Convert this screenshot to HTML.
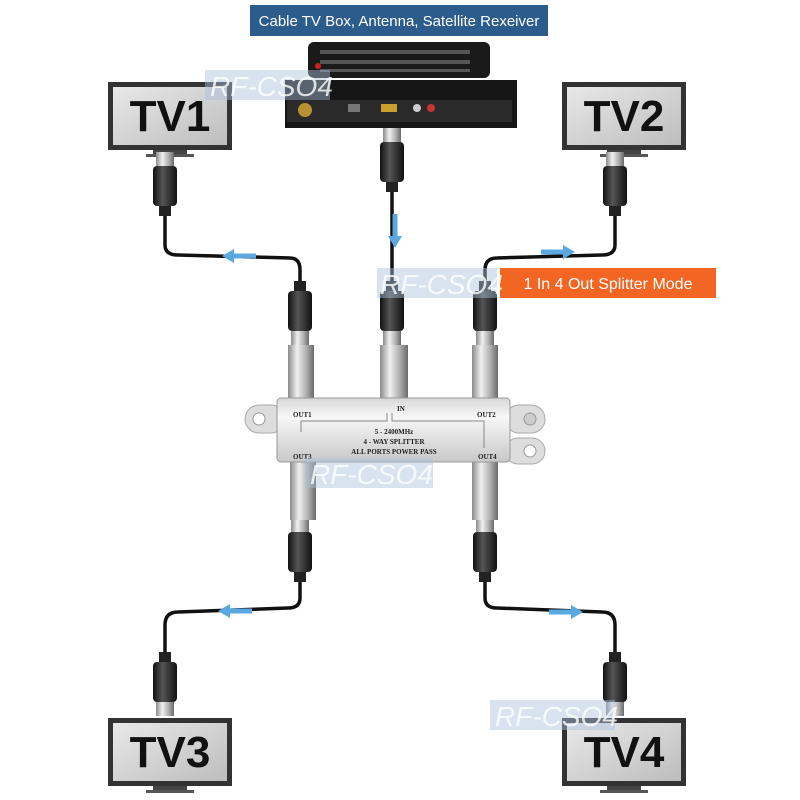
<!DOCTYPE html>
<html><head><style>body{margin:0;background:#fff}svg{display:block}</style></head>
<body>
<svg width="800" height="800" viewBox="0 0 800 800" xmlns="http://www.w3.org/2000/svg" font-family="Liberation Sans, sans-serif">
<defs>
<linearGradient id="metal" x1="0" x2="1" y1="0" y2="0">
<stop offset="0" stop-color="#8a8a8a"/><stop offset="0.35" stop-color="#f0f0f0"/><stop offset="0.7" stop-color="#b0b0b0"/><stop offset="1" stop-color="#6a6a6a"/></linearGradient>
<linearGradient id="conn" x1="0" x2="1" y1="0" y2="0">
<stop offset="0" stop-color="#111"/><stop offset="0.4" stop-color="#555"/><stop offset="1" stop-color="#111"/></linearGradient>
<linearGradient id="body" x1="0" x2="0" y1="0" y2="1">
<stop offset="0" stop-color="#d8d8d8"/><stop offset="0.3" stop-color="#f7f7f7"/><stop offset="1" stop-color="#c8c8c8"/></linearGradient>
<linearGradient id="screen" x1="0" x2="1" y1="0" y2="1">
<stop offset="0" stop-color="#e8e8e8"/><stop offset="1" stop-color="#bdbdbd"/></linearGradient>
<g id="plug">
<rect x="-9" y="0" width="18" height="14" fill="url(#metal)"/>
<rect x="-12" y="14" width="24" height="40" rx="4" fill="url(#conn)"/>
<rect x="-6" y="54" width="12" height="10" fill="#222"/>
</g>
<g id="tv">
<rect x="0" y="0" width="124" height="68" fill="#333"/>
<rect x="5" y="5" width="114" height="58" fill="url(#screen)"/>
<rect x="45" y="68" width="34" height="5" fill="#444"/>
<rect x="38" y="72" width="48" height="3" fill="#555"/>
</g>
<g id="arrowL"><rect x="8" y="-2.5" width="26" height="5" fill="#5aa8e0"/><polygon points="0,0 12,-7 12,7" fill="#5aa8e0"/></g>
</defs>

<rect x="250" y="5" width="298" height="31" fill="#2b5c8c"/>
<text x="399" y="26" font-size="15" fill="#fff" text-anchor="middle">Cable TV Box, Antenna, Satellite Rexeiver</text>

<rect x="308" y="42" width="182" height="36" rx="6" fill="#1a1a1a"/>
<g fill="#555"><rect x="320" y="50" width="150" height="4"/><rect x="320" y="60" width="150" height="4"/><rect x="320" y="69" width="150" height="3"/></g>
<circle cx="318" cy="66" r="3" fill="#c22"/>
<rect x="285" y="80" width="232" height="48" fill="#161616"/>
<rect x="287" y="100" width="225" height="22" fill="#2a2a2a"/>
<circle cx="305" cy="110" r="7" fill="#b89030"/>
<rect x="348" y="104" width="12" height="8" fill="#777"/>
<rect x="381" y="104" width="16" height="8" fill="#c9a030"/>
<circle cx="417" cy="108" r="4" fill="#ccc"/><circle cx="431" cy="108" r="4" fill="#c33"/>

<use href="#tv" x="108" y="82"/>
<use href="#tv" x="562" y="82"/>
<use href="#tv" x="108" y="718"/>
<use href="#tv" x="562" y="718"/>
<g font-size="44" font-weight="bold" fill="#111" text-anchor="middle">
<text x="170" y="131">TV1</text><text x="624" y="131">TV2</text>
<text x="170" y="767">TV3</text><text x="624" y="767">TV4</text></g>

<g fill="none" stroke="#111" stroke-width="3.5">
<path d="M165 214 L165 245 Q165 255 178 255 L290 258 Q300 258 300 270 L300 290"/>
<path d="M392 190 L392 290"/>
<path d="M615 214 L615 245 Q615 255 602 255 L497 258 Q485 258 485 270 L485 290"/>
<path d="M300 578 L300 598 Q300 608 288 608 L178 612 Q165 612 165 625 L165 655"/>
<path d="M485 578 L485 598 Q485 608 497 608 L602 612 Q615 612 615 625 L615 655"/>
</g>
<use href="#plug" transform="translate(165,152)"/>
<use href="#plug" transform="translate(615,152)"/>
<use href="#plug" transform="translate(392,128)"/>
<use href="#plug" transform="translate(300,345) scale(1,-1)"/>
<use href="#plug" transform="translate(392,345) scale(1,-1)"/>
<use href="#plug" transform="translate(485,345) scale(1,-1)"/>
<use href="#plug" transform="translate(300,518)"/>
<use href="#plug" transform="translate(485,518)"/>
<use href="#plug" transform="translate(165,716) scale(1,-1)"/>
<use href="#plug" transform="translate(615,716) scale(1,-1)"/>

<use href="#arrowL" x="222" y="256"/>
<use href="#arrowL" transform="translate(575,252) scale(-1,1)"/>
<use href="#arrowL" x="218" y="611"/>
<use href="#arrowL" transform="translate(583,612) scale(-1,1)"/>
<g transform="translate(395,248) rotate(-90)"><use href="#arrowL"/></g>

<rect x="288" y="345" width="26" height="55" fill="url(#metal)"/>
<rect x="380" y="345" width="28" height="55" fill="url(#metal)"/>
<rect x="472" y="345" width="26" height="55" fill="url(#metal)"/>
<rect x="290" y="460" width="26" height="60" fill="url(#metal)"/>
<rect x="472" y="460" width="26" height="60" fill="url(#metal)"/>
<rect x="245" y="405" width="40" height="28" rx="14" fill="#ddd" stroke="#aaa"/>
<circle cx="259" cy="419" r="6" fill="#fff" stroke="#999"/>
<rect x="505" y="405" width="40" height="28" rx="14" fill="#ddd" stroke="#aaa"/>
<circle cx="530" cy="419" r="6" fill="#ccc" stroke="#999"/>
<rect x="505" y="438" width="40" height="26" rx="13" fill="#ddd" stroke="#aaa"/>
<circle cx="530" cy="451" r="6" fill="#fff" stroke="#999"/>
<rect x="277" y="398" width="233" height="64" rx="4" fill="url(#body)" stroke="#999"/>
<path d="M301 432 L301 421 L387 421 L387 413 M392 413 L392 421 L484 421 L484 448" fill="none" stroke="#888" stroke-width="1"/>
<g font-size="7" font-weight="bold" fill="#222" font-family="Liberation Serif, serif">
<text x="293" y="417">OUT1</text><text x="477" y="417">OUT2</text>
<text x="293" y="459">OUT3</text><text x="478" y="459">OUT4</text>
<text x="397" y="411">IN</text>
<text x="394" y="434" text-anchor="middle">5 - 2400MHz</text>
<text x="394" y="444" text-anchor="middle">4 - WAY SPLITTER</text>
<text x="394" y="454" text-anchor="middle">ALL PORTS POWER PASS</text></g>

<rect x="500" y="268" width="216" height="30" fill="#f26522"/>
<text x="608" y="289" font-size="16" fill="#fff" text-anchor="middle">1 In 4 Out Splitter Mode</text>

<g fill="#a8c0dc" fill-opacity="0.45">
<rect x="205" y="70" width="125" height="30"/>
<rect x="377" y="268" width="120" height="30"/>
<rect x="305" y="458" width="128" height="30"/>
<rect x="490" y="700" width="125" height="30"/></g>
<g font-size="28" font-style="italic" fill="#fff" fill-opacity="0.8">
<text x="210" y="96">RF-CSO4</text><text x="380" y="294">RF-CSO4</text>
<text x="310" y="484">RF-CSO4</text><text x="495" y="726">RF-CSO4</text></g>
</svg>
</body></html>
